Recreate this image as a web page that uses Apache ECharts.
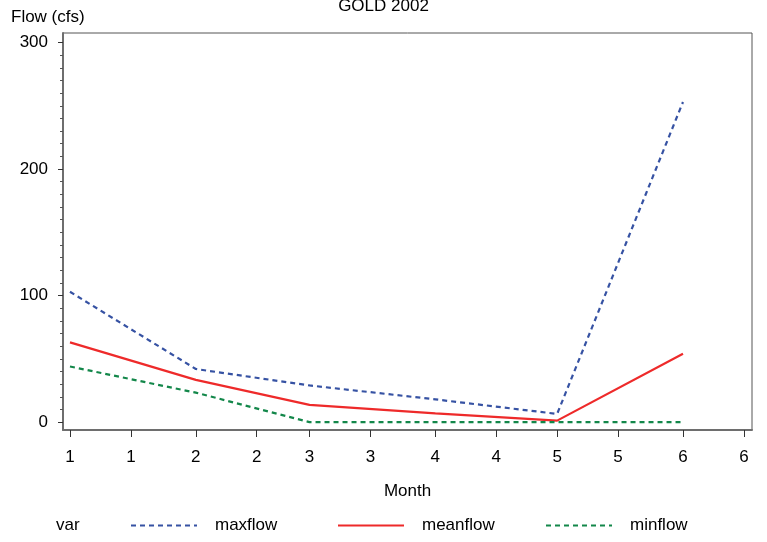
<!DOCTYPE html>
<html>
<head>
<meta charset="utf-8">
<script src="https://cdn.jsdelivr.net/npm/echarts@6/dist/echarts.min.js"></script>
<style>
html,body{margin:0;padding:0;background:#fff;}
#chart{width:767px;height:542px;}
</style>
</head>
<body>
<div id="chart"></div>
<script>
// ---- data ----
const months = [1, 2, 3, 4, 5, 6];
const maxflow = [103, 42, 29, 18, 6.5, 253];
const meanflow = [63, 33.4, 13.6, 7, 1.2, 54];
const minflow = [44, 23.3, 0, 0, 0, 0];
// x-axis ticks: [month, day] in 2002, and their labels
const xTickDates = [[1,1],[1,16],[2,1],[2,16],[3,1],[3,16],[4,1],[4,16],[5,1],[5,16],[6,1],[6,16]];
const xTickLabels = ['1','1','2','2','3','3','4','4','5','5','6','6'];
const yMajorTicks = [0, 100, 200, 300];
const yMinorTicks = [];
for (let v = 0; v <= 300; v += 10) if (v % 100 !== 0) yMinorTicks.push(v);
const seriesNames = ['maxflow', 'meanflow', 'minflow'];
const seriesColors = ['#3652A3', '#EE2A2A', '#13874A'];

// ---- helpers ----
const base = Date.UTC(2002, 0, 1);
const dayOf = (m, d) => (Date.UTC(2002, m - 1, d) - base) / 86400000;
const xTicks = xTickDates.map(([m, d]) => dayOf(m, d));
const labelFor = v => {
  const i = xTicks.findIndex(t => Math.abs(t - v) < 1e-6);
  return i >= 0 ? xTickLabels[i] : '';
};
const pts = arr => months.map((m, i) => [dayOf(m, 1), arr[i]]);

const FONT = 'Liberation Sans, Arial, Helvetica, sans-serif';
const FS = 17;
const AXIS_COLOR = '#6e6e6e';

const chart = echarts.init(document.getElementById('chart'), null, {renderer: 'canvas'});
const lineSeries = (name, data, color, type) => ({
  name, type: 'line', data, symbol: 'none', showSymbol: false,
  xAxisIndex: 0, yAxisIndex: 0,
  lineStyle: {color, width: 2.2, type},
  itemStyle: {color},
  emphasis: {disabled: true},
  animation: false
});

const legendAt = (name, left) => ({
  show: true, data: [name], left, top: 517, itemWidth: 66, itemHeight: 14,
  selectedMode: false, padding: 0,
  itemStyle: {opacity: 0},
  textStyle: {fontFamily: FONT, fontSize: FS, color: '#000', padding: [0, 0, 0, 13]}
});

chart.setOption({
  backgroundColor: '#fff',
  animation: false,
  textStyle: {fontFamily: FONT},
  title: [
    {text: 'GOLD 2002', left: 'center', top: -2, padding: 0,
     textStyle: {fontFamily: FONT, fontSize: FS, fontWeight: 'normal', color: '#000'}},
    {text: 'Flow (cfs)', left: 11, top: 9, padding: 0,
     textStyle: {fontFamily: FONT, fontSize: FS, fontWeight: 'normal', color: '#000'}}
  ],
  graphic: [
    {type: 'text', left: 56, top: 517,
     style: {text: 'var', font: FS + 'px ' + FONT, fill: '#000'}}
  ],
  legend: [
    legendAt('maxflow', 130),
    legendAt('meanflow', 337),
    legendAt('minflow', 545)
  ],
  grid: {left: 63, right: 15, top: 33, bottom: 112, show: true,
         borderColor: '#555', borderWidth: 1, backgroundColor: 'transparent'},
  xAxis: [{
    type: 'value', min: -1.72, max: 168.0,
    name: 'Month', nameLocation: 'middle', nameGap: 53,
    nameTextStyle: {fontFamily: FONT, fontSize: FS, color: '#000'},
    axisLine: {show: true, onZero: false, lineStyle: {color: AXIS_COLOR, width: 2}},
    axisTick: {show: true, length: 7, customValues: xTicks, lineStyle: {color: '#333', width: 1}},
    axisLabel: {show: true, customValues: xTicks, margin: 19, formatter: labelFor,
                fontFamily: FONT, fontSize: FS, color: '#000'},
    splitLine: {show: false}
  }],
  yAxis: [{
    type: 'value', min: -6.2, max: 307.5,
    axisLine: {show: true, onZero: false, lineStyle: {color: AXIS_COLOR, width: 2}},
    axisTick: {show: true, length: 5, customValues: yMajorTicks, lineStyle: {color: '#333', width: 1}},
    axisLabel: {show: true, customValues: yMajorTicks, margin: 15,
                fontFamily: FONT, fontSize: FS, color: '#000'},
    splitLine: {show: false}
  }, {
    type: 'value', min: -6.2, max: 307.5, position: 'left', offset: 0,
    axisLine: {show: false, onZero: false},
    axisTick: {show: true, length: 3, customValues: yMinorTicks, lineStyle: {color: '#555', width: 1}},
    axisLabel: {show: false},
    splitLine: {show: false}
  }],
  series: [
    lineSeries(seriesNames[0], pts(maxflow), seriesColors[0], [5, 4]),
    lineSeries(seriesNames[1], pts(meanflow), seriesColors[1], 'solid'),
    lineSeries(seriesNames[2], pts(minflow), seriesColors[2], [5, 4])
  ]
});
</script>
</body>
</html>
